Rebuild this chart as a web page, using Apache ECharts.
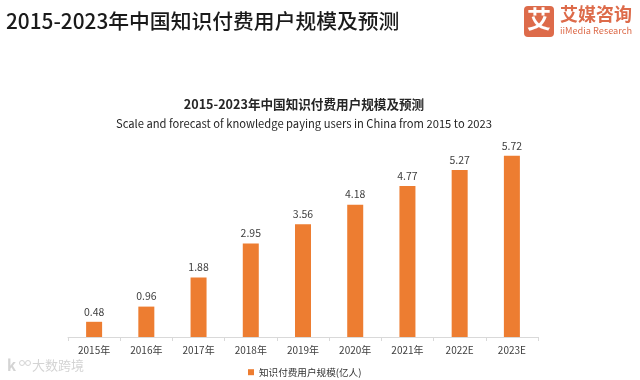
<!DOCTYPE html>
<html>
<head>
<meta charset="utf-8">
<style>
  html, body { margin: 0; padding: 0; background: #fff; }
  #chart { width: 640px; height: 380px; }
</style>
<script src="https://cdn.jsdelivr.net/npm/echarts@6/dist/echarts.min.js"></script>
</head>
<body>
<div id="chart"></div>
<script>
var categories = ["2015年", "2016年", "2017年", "2018年", "2019年", "2020年", "2021年", "2022E", "2023E"];
var userValues = [0.48, 0.96, 1.88, 2.95, 3.56, 4.18, 4.77, 5.27, 5.72];
var seriesName = "知识付费用户规模(亿人)";
var pageTitle = "2015-2023年中国知识付费用户规模及预测";
var chartTitle = "2015-2023年中国知识付费用户规模及预测";
var chartSubtitle = "Scale and forecast of knowledge paying users in China from 2015 to 2023";

var cjk = '"Noto Sans CJK SC", "Noto Sans", sans-serif';
var logoColor = "#dd6b4a";

var myChart = echarts.init(document.getElementById("chart"));
myChart.setOption({
  backgroundColor: "#fff",
  animation: false,
  textStyle: { fontFamily: cjk },
  title: [
    { text: pageTitle, left: 1, top: 6, textStyle: { fontSize: 20.8, fontWeight: 500, color: "#1a1a1a", fontFamily: cjk } },
    { text: chartTitle, left: 299, top: 93, textAlign: "center", textStyle: { fontSize: 12.6, fontWeight: 700, color: "#262626", fontFamily: cjk } },
    { text: chartSubtitle, left: 299, top: 113, textAlign: "center", textStyle: { fontSize: 11.2, fontWeight: 400, color: "#262626", fontFamily: cjk } }
  ],
  legend: {
    bottom: -2,
    left: 243,
    itemWidth: 6,
    itemHeight: 6,
    itemGap: 0,
    textStyle: { fontSize: 9.6, color: "#333333", fontFamily: cjk },
    data: [{ name: seriesName, icon: "rect" }]
  },
  grid: { left: 68, right: 102, top: 147, bottom: 43 },
  xAxis: {
    type: "category",
    data: categories,
    axisLine: { lineStyle: { color: "#d9d9d9" } },
    axisTick: { show: true, length: 4, alignWithLabel: false, lineStyle: { color: "#d9d9d9" } },
    axisLabel: { fontSize: 10, color: "#404040", margin: 8, fontFamily: cjk }
  },
  yAxis: { type: "value", min: 0, max: 6, show: false, splitLine: { show: false } },
  series: [{
    name: seriesName,
    type: "bar",
    data: userValues,
    barWidth: 16,
    itemStyle: { color: "#ed7d31" },
    label: { show: true, position: "top", distance: 5, fontSize: 10.5, color: "#404040", fontFamily: cjk, formatter: function (p) { return p.value.toFixed(2); } }
  }],
  graphic: [
    // logo
    { type: "rect", left: 524, top: 6, shape: { width: 30, height: 31, r: 4 }, style: { fill: logoColor } },
    { type: "text", left: 527, top: 7, style: { text: "艾", fill: "#fff", font: '700 24px ' + cjk } },
    { type: "text", left: 560, top: 5, style: { text: "艾媒咨询", fill: logoColor, font: '700 18px ' + cjk } },
    { type: "text", left: 560, top: 26, style: { text: "iiMedia Research", fill: logoColor, font: '400 9.2px ' + cjk } },
    // watermark
    { type: "text", left: 32, top: 359, style: { text: "大数跨境", fill: "#d4d4d4", font: '400 13px ' + cjk } },
    { type: "text", left: 7, top: 358, style: { text: "k", fill: "#d4d4d4", font: '700 15px ' + cjk } },
    { type: "circle", left: 17, top: 358, shape: { r: 2.5 }, style: { fill: "none", stroke: "#d4d4d4", lineWidth: 1 } },
    { type: "circle", left: 23, top: 358, shape: { r: 2.5 }, style: { fill: "none", stroke: "#d4d4d4", lineWidth: 1 } }
  ]
});
</script>
</body>
</html>
